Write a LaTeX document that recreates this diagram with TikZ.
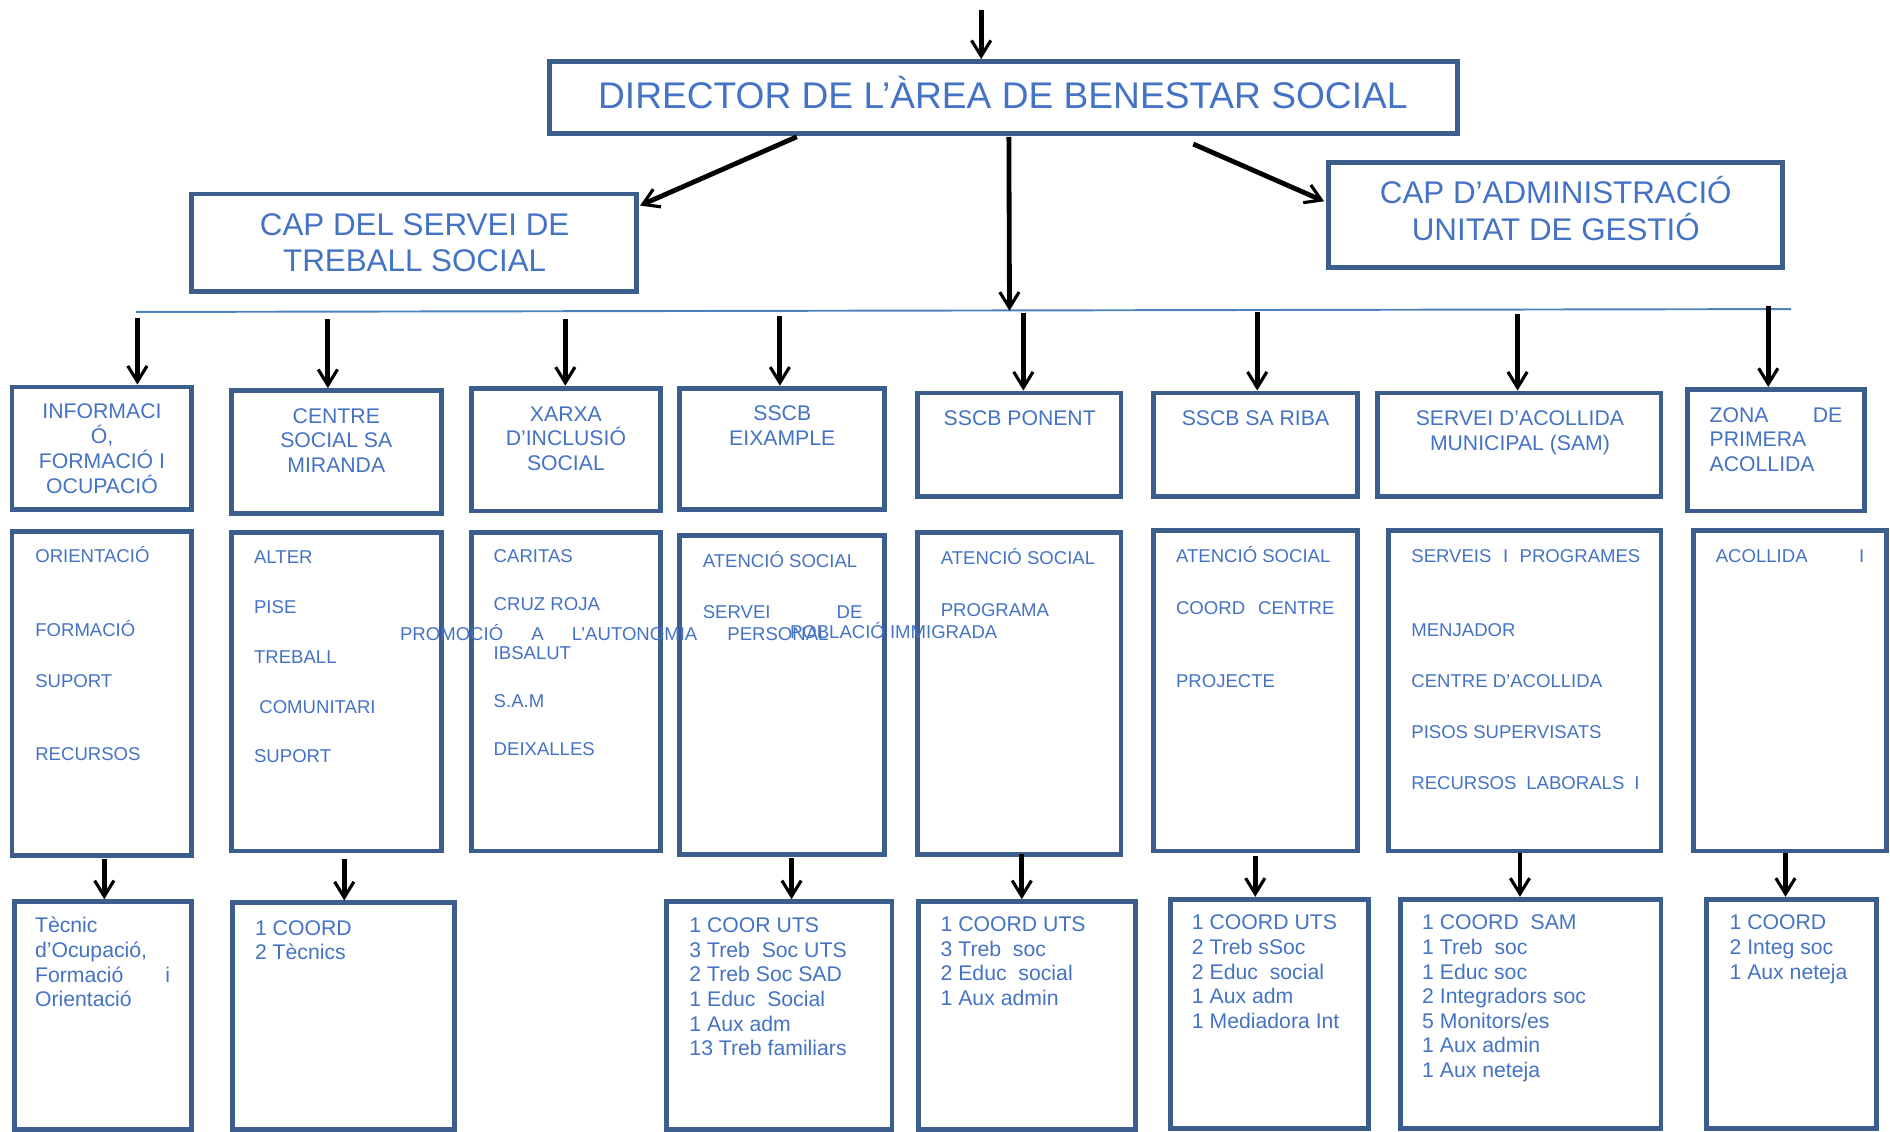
\documentclass[tikz,border=0pt]{standalone}
\usepackage{fontspec}
\setmainfont{Liberation Sans}
\usetikzlibrary{arrows.meta,fit}
\definecolor{bordc}{RGB}{59,94,140}
\definecolor{txtc}{RGB}{68,114,196}
\definecolor{linec}{RGB}{79,129,189}
\newcommand\ftitle{\fontsize{15.4pt}{18pt}\selectfont}
\newcommand\flevel{\fontsize{13pt}{15pt}\selectfont}
\newcommand\fhead{\fontsize{8.8pt}{10.2pt}\selectfont}
\newcommand\fcont{\fontsize{7.7pt}{9pt}\selectfont}
\begin{document}
\begin{tikzpicture}[x=0.5pt,y=-0.5pt,
  box/.style={draw=bordc,line width=2pt,inner sep=0pt},
  ttl/.style={font=\ftitle,text=txtc,anchor=base,inner sep=0pt},
  lvl/.style={font=\flevel,text=txtc,anchor=base,inner sep=0pt},
  hdc/.style={font=\fhead,text=txtc,anchor=base,inner sep=0pt},
  hdw/.style={hdc,anchor=base west},
  cnt/.style={font=\fcont,text=txtc,anchor=base west,inner sep=0pt},
  stf/.style={font=\fhead,text=txtc,anchor=base west,inner sep=0pt},
  arr/.style={draw=black,line width=2pt,-{Straight Barb[length=6.5pt,width=8pt,line width=1.3pt]}},
  hline/.style={draw=linec,line width=0.8pt}]
\useasboundingbox (0,0) rectangle (1568,939);

% ---------- top level boxes ----------
\node[box,fit={(456,51) (1209,111)}] (dir) {};
\node[box,fit={(159,161) (528,242)}] (cap1) {};
\node[box,fit={(1102,135) (1479,222)}] (cap2) {};
\node[ttl] (tdir) at (832,90) {DIRECTOR DE L’ÀREA DE BENESTAR SOCIAL};
\node[lvl] (tc1a) at (344,195) {CAP DEL SERVEI DE};
\node[lvl] (tc1b) at (344,225.4) {TREBALL SOCIAL};
\node[lvl] (tc2a) at (1290.7,169.2) {CAP D’ADMINISTRACIÓ};
\node[lvl] (tc2b) at (1290.7,199.7) {UNITAT DE GESTIÓ};

% ---------- header row ----------
\node[box,fit={(10,321) (159,423)}] (h1) {};
\node[box,fit={(192,324) (366,426)}] (h2) {};
\node[box,fit={(391,322) (548,424)}] (h3) {};
\node[box,fit={(564,322) (734,423)}] (h4) {};
\node[box,fit={(761,326) (930,412)}] (h5) {};
\node[box,fit={(957,326) (1126,412)}] (h6) {};
\node[box,fit={(1143,326) (1378,412)}] (h7) {};
\node[box,fit={(1400,323) (1547,424)}] (h8) {};

% ---------- content row ----------
\node[box,fit={(10,441) (159,710)}] (c1) {};
\node[box,fit={(192,442) (366,706)}] (c2) {};
\node[box,fit={(391,442) (548,706)}] (c3) {};
\node[box,fit={(564,444) (734,709)}] (c4) {};
\node[box,fit={(761,442) (930,709)}] (c5) {};
\node[box,fit={(957,440) (1126,706)}] (c6) {};
\node[box,fit={(1152,440) (1378,706)}] (c7) {};
\node[box,fit={(1405,440) (1565,706)}] (c8) {};

% ---------- staff row ----------
\node[box,fit={(12,748) (159,937)}] (d1) {};
\node[box,fit={(193,749) (377,937)}] (d2) {};
\node[box,fit={(553,748) (740,937)}] (d4) {};
\node[box,fit={(762,748) (942,937)}] (d5) {};
\node[box,fit={(971,746) (1135,936)}] (d6) {};
\node[box,fit={(1162,746) (1378,936)}] (d7) {};
\node[box,fit={(1416,746) (1557,936)}] (d8) {};

% ---------- header texts ----------
\node[hdc] (t1a) at (84.6,347.5) {INFORMACI};
\node[hdc] (t1b) at (84.6,368) {Ó,};
\node[hdc] (t1c) at (84.6,388.5) {FORMACIÓ I};
\node[hdc] (t1d) at (84.6,409) {OCUPACIÓ};
\node[hdc] (t2a) at (279,351) {CENTRE};
\node[hdc] (t2b) at (279,371.5) {SOCIAL SA};
\node[hdc] (t2c) at (279,392) {MIRANDA};
\node[hdc] (t3a) at (469.5,349.6) {XARXA};
\node[hdc] (t3b) at (469.5,370) {D’INCLUSIÓ};
\node[hdc] (t3c) at (469.5,390.4) {SOCIAL};
\node[hdc] (t4a) at (649,349.2) {SSCB};
\node[hdc] (t4b) at (649,369.7) {EIXAMPLE};
\node[hdc] (t5a) at (846,353) {SSCB PONENT};
\node[hdc] (t6a) at (1041.6,353) {SSCB SA RIBA};
\node[hdc] (t7a) at (1261,353) {SERVEI D’ACOLLIDA};
\node[hdc] (t7b) at (1261,374) {MUNICIPAL (SAM)};
\node[hdw] (t8a) at (1418,350.3) {\hbox to 55pt{ZONA\hfill DE}};
\node[hdw] (t8b) at (1418,370.7) {PRIMERA};
\node[hdw] (t8c) at (1418,391) {ACOLLIDA};

% ---------- content texts ----------
\node[cnt] (u1a) at (28.9,467) {ORIENTACIÓ};
\node[cnt] (u1b) at (28.9,527.7) {FORMACIÓ};
\node[cnt] (u1c) at (28.9,570.3) {SUPORT};
\node[cnt] (u1d) at (28.9,631.2) {RECURSOS};
\node[cnt] (u2a) at (210.4,467.7) {ALTER};
\node[cnt] (u2b) at (210.4,509.2) {PISE};
\node[cnt] (u2c) at (210.4,550.3) {TREBALL};
\node[cnt] (u2d) at (214.8,591.8) {COMUNITARI};
\node[cnt] (u2e) at (210.4,632.5) {SUPORT};
\node[cnt] (u3a) at (409.2,466.3) {CARITAS};
\node[cnt] (u3b) at (409.2,506.7) {CRUZ ROJA};
\node[cnt] (u3c) at (409.2,546.8) {IBSALUT};
\node[cnt] (u3d) at (409.2,586.9) {S.A.M};
\node[cnt] (u3e) at (409.2,627) {DEIXALLES};
\node[cnt] (u3f) at (331.5,531.6) {\hbox to 123.3pt{PROMOCIÓ\hfill A\hfill L’AUTONOMIA}};
\node[cnt] (u4a) at (582.7,471) {ATENCIÓ SOCIAL};
\node[cnt] (u4b) at (582.7,513.4) {\hbox to 66.2pt{SERVEI\hfill DE}};
\node[cnt] (u4c) at (603.1,531.2) {PERSONAL};
\node[cnt] (u4d) at (655,529.3) {POBLACIÓ IMMIGRADA};
\node[cnt] (u5a) at (780.1,468.6) {ATENCIÓ SOCIAL};
\node[cnt] (u5b) at (780.1,511.3) {PROGRAMA};
\node[cnt] (u6a) at (975.3,466.9) {ATENCIÓ SOCIAL};
\node[cnt] (u6b) at (975.3,509.5) {\hbox to 65.7pt{COORD\hfill CENTRE}};
\node[cnt] (u6c) at (975.3,570.3) {PROJECTE};
\node[cnt] (u7a) at (1170.5,466.9) {\hbox to 95pt{SERVEIS\hfill I\hfill PROGRAMES}};
\node[cnt] (u7b) at (1170.5,527.7) {MENJADOR};
\node[cnt] (u7c) at (1170.5,570.3) {CENTRE D’ACOLLIDA};
\node[cnt] (u7d) at (1170.5,612.6) {PISOS SUPERVISATS};
\node[cnt] (u7e) at (1170.5,655.3) {\hbox to 94.6pt{RECURSOS\hfill LABORALS\hfill I}};
\node[cnt] (u8a) at (1423.1,466.9) {\hbox to 61.6pt{ACOLLIDA\hfill I}};

% ---------- staff texts ----------
\node[stf] (v1a) at (28.7,773.7) {Tècnic};
\node[stf] (v1b) at (28.7,794.2) {d’Ocupació,};
\node[stf] (v1c) at (28.7,815) {\hbox to 56pt{Formació\hfill i}};
\node[stf] (v1d) at (28.7,835.2) {Orientació};
\node[stf] (v2a) at (211.2,775.7) {1 COORD};
\node[stf] (v2b) at (211.2,795.9) {2 Tècnics};
\node[stf] (v4a) at (571.6,773.7) {1 COOR UTS};
\node[stf] (v4b) at (571.6,794.2) {3 Treb\ \ Soc UTS};
\node[stf] (v4c) at (571.6,814.6) {2 Treb Soc SAD};
\node[stf] (v4d) at (571.6,835) {1 Educ\ \ Social};
\node[stf] (v4e) at (571.6,855.4) {1 Aux adm};
\node[stf] (v4f) at (571.6,875.8) {13 Treb familiars};
\node[stf] (v5a) at (780,772.9) {1 COORD UTS};
\node[stf] (v5b) at (780,793.3) {3 Treb\ \ soc};
\node[stf] (v5c) at (780,813.7) {2 Educ\ \ social};
\node[stf] (v5d) at (780,834.1) {1 Aux admin};
\node[stf] (v6a) at (988.5,771.5) {1 COORD UTS};
\node[stf] (v6b) at (988.5,791.9) {2 Treb sSoc};
\node[stf] (v6c) at (988.5,812.3) {2 Educ\ \ social};
\node[stf] (v6d) at (988.5,832.7) {1 Aux adm};
\node[stf] (v6e) at (988.5,853.1) {1 Mediadora Int};
\node[stf] (v7a) at (1179.5,771.5) {1 COORD\ \ SAM};
\node[stf] (v7b) at (1179.5,791.9) {1 Treb\ \ soc};
\node[stf] (v7c) at (1179.5,812.3) {1 Educ soc};
\node[stf] (v7d) at (1179.5,832.7) {2 Integradors soc};
\node[stf] (v7e) at (1179.5,853.1) {5 Monitors/es};
\node[stf] (v7f) at (1179.5,873.5) {1 Aux admin};
\node[stf] (v7g) at (1179.5,893.9) {1 Aux neteja};
\node[stf] (v8a) at (1434.5,771.5) {1 COORD};
\node[stf] (v8b) at (1434.5,791.9) {2 Integ soc};
\node[stf] (v8c) at (1434.5,812.3) {1 Aux neteja};

% ---------- connectors ----------
\coordinate (tp) at (814,8);
\draw[arr] (tp) -- (tp |- dir.north);
\coordinate (d1s) at (661,113.5);
\draw[arr] (d1s) -- ([shift={(1,11.5)}]cap1.north east);
\coordinate (d2s) at (990,119.5);
\draw[arr] (d2s) -- ([shift={(-1.5,-11.5)}]cap2.west);
\coordinate (la) at (113,258.8);
\coordinate (lb) at (1486,256.4);
\draw[hline] (la) -- (lb);
\coordinate (dv) at (837,113.5);
\coordinate (lm) at (837.5,257.8);
\draw[arr] (dv) -- (lm);
\foreach \i/\x/\y in {1/114/264,2/272/265,3/469/265,4/647/262,5/849/260,6/1043/259,7/1259/260.5,8/1467/254}{
  \coordinate (s\i) at (\x,\y);
  \draw[arr] (s\i) -- (s\i |- h\i.north);
}
\foreach \i/\x/\y in {1/86.5/712.5,2/285.6/712.5,4/656.7/712,5/847.7/708.5,6/1041.4/710.5,7/1261/707.5,8/1481.3/707.5}{
  \coordinate (r\i) at (\x,\y);
  \draw[arr] (r\i) -- (r\i |- d\i.north);
}
\end{tikzpicture}
\end{document}
